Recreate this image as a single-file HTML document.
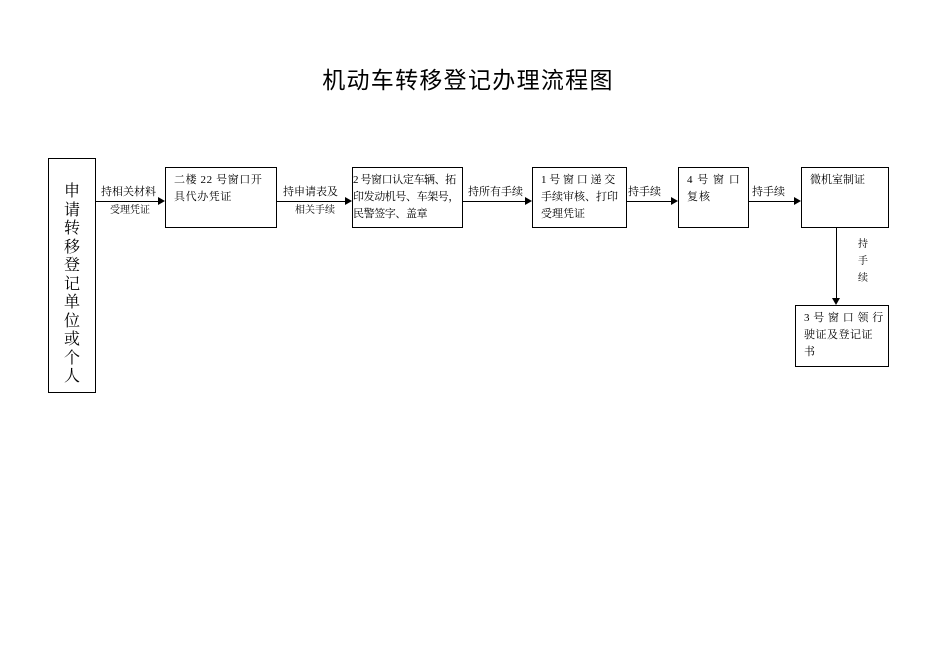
<!DOCTYPE html>
<html><head><meta charset="utf-8"><style>
body{margin:0;width:936px;height:662px;background:#fff;position:relative;overflow:hidden;font-family:"Liberation Serif","Noto Serif CJK SC",serif;color:#000}
.b{position:absolute;border:1px solid #000;box-sizing:border-box;font-size:11px;line-height:17px;padding:4px 0 0 8px;white-space:nowrap}
.t{position:absolute;font-size:11px;line-height:17px;white-space:nowrap}
.h{position:absolute;height:1px;background:#000}
.ah{position:absolute;width:0;height:0;border-top:4px solid transparent;border-bottom:4px solid transparent;border-left:7px solid #000}
</style></head><body>
<div style="position:absolute;left:0;width:936px;top:64px;text-align:center;font-family:'Liberation Sans','Noto Sans CJK SC',sans-serif;font-size:23px;line-height:32px;letter-spacing:1.3px">机动车转移登记办理流程图</div>

<div class="b" style="left:48px;top:158px;width:48px;height:235px;padding:24px 0 0 0;text-align:center;font-size:16px;line-height:18.5px">申<br>请<br>转<br>移<br>登<br>记<br>单<br>位<br>或<br>个<br>人</div>

<div class="b" style="left:165px;top:167px;width:112px;height:61px;letter-spacing:0.6px">二楼 22 号窗口开<br>具代办凭证</div>
<div class="b" style="left:352px;top:167px;width:111px;height:61px;padding-left:0;letter-spacing:-0.4px">2 号窗口认定车辆、拓<br>印发动机号、车架号，<br>民警签字、盖章</div>
<div class="b" style="left:532px;top:167px;width:95px;height:61px">1 号 窗 口 递 交<br>手续审核、打印<br>受理凭证</div>
<div class="b" style="left:678px;top:167px;width:71px;height:61px;letter-spacing:1px">4 号 窗 口<br>复核</div>
<div class="b" style="left:801px;top:167px;width:88px;height:61px">微机室制证</div>
<div class="b" style="left:795px;top:305px;width:94px;height:62px;letter-spacing:0.5px">3 号 窗 口 领 行<br>驶证及登记证<br>书</div>

<div class="h" style="left:96px;top:201px;width:63px"></div><div class="ah" style="left:158px;top:197px"></div>
<div class="h" style="left:277px;top:201px;width:69px"></div><div class="ah" style="left:345px;top:197px"></div>
<div class="h" style="left:463px;top:201px;width:63px"></div><div class="ah" style="left:525px;top:197px"></div>
<div class="h" style="left:627px;top:201px;width:45px"></div><div class="ah" style="left:671px;top:197px"></div>
<div class="h" style="left:749px;top:201px;width:46px"></div><div class="ah" style="left:794px;top:197px"></div>
<div style="position:absolute;left:836px;top:228px;width:1px;height:71px;background:#000"></div>
<div style="position:absolute;left:832px;top:298px;width:0;height:0;border-left:4px solid transparent;border-right:4px solid transparent;border-top:7px solid #000"></div>

<div class="t" style="left:101px;top:184px">持相关材料</div>
<div class="t" style="left:110px;top:202px;font-size:10px">受理凭证</div>
<div class="t" style="left:283px;top:184px">持申请表及</div>
<div class="t" style="left:295px;top:202px;font-size:10px">相关手续</div>
<div class="t" style="left:468px;top:184px">持所有手续</div>
<div class="t" style="left:628px;top:184px">持手续</div>
<div class="t" style="left:752px;top:184px">持手续</div>
<div class="t" style="left:858px;top:236px;font-size:10px;line-height:17px">持<br>手<br>续</div>
</body></html>
